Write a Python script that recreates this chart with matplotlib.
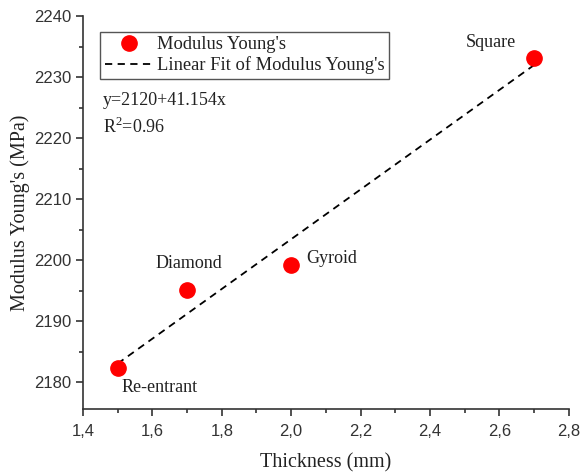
import matplotlib
matplotlib.use('Agg')
import matplotlib.pyplot as plt
import numpy as np
from matplotlib.ticker import MultipleLocator, FuncFormatter

# data
names = ['Re-entrant', 'Diamond', 'Gyroid', 'Square']
thickness = [1.5, 1.7, 2.0, 2.7]
modulus = [2182.3, 2195.1, 2199.2, 2233.1]
r_squared = 0.96

SERIF = 'Liberation Serif'
SANS = 'Liberation Sans'
TEXT = '#222222'

plt.rcParams['mathtext.fontset'] = 'custom'
plt.rcParams['mathtext.rm'] = SERIF

fig = plt.figure(figsize=(5.84, 4.73), dpi=100)
ax = fig.add_axes([0.142, 0.135, 0.832, 0.831])

ax.plot(thickness, modulus, 'o', color='#ff0000', markersize=11,
        label="Modulus Young's", zorder=3)
xfit = np.array([thickness[0], thickness[-1]])
slope, intercept = np.polyfit(thickness, modulus, 1)
ax.plot(xfit, intercept + slope * xfit, '--', color='k', linewidth=1.3,
        dashes=(4, 3), label="Linear Fit of Modulus Young's", zorder=2)

# point labels: offsets in points
offsets = {
    'Re-entrant': (3, -14, 'left'),
    'Diamond': (1.5, 19, 'center'),
    'Gyroid': (11, 5, 'left'),
    'Square': (-31, 11, 'center'),
}
for n, x, y in zip(names, thickness, modulus):
    dx, dy, ha = offsets[n]
    ax.annotate(n, (x, y), xytext=(dx, dy), textcoords='offset points',
                ha=ha, va='center', fontsize=13, family=SERIF, color=TEXT)

ax.text(0.041, 0.786, 'y=2120+41.154x', transform=ax.transAxes,
        fontsize=13, family=SERIF, va='center', color=TEXT)
ax.text(0.041, 0.718, r'R$^\mathrm{2}$=%.2f' % r_squared, transform=ax.transAxes,
        fontsize=13, family=SERIF, va='center', color=TEXT)

ax.set_xlim(1.4, 2.8)
ax.set_ylim(2175.6, 2240)
ax.xaxis.set_major_locator(MultipleLocator(0.2))
ax.xaxis.set_minor_locator(MultipleLocator(0.1))
ax.yaxis.set_major_locator(MultipleLocator(10))
ax.yaxis.set_minor_locator(MultipleLocator(5))
ax.xaxis.set_major_formatter(FuncFormatter(lambda v, p: ('%.1f' % v).replace('.', ',')))
ax.set_yticks(np.arange(2180, 2241, 10))

for s in ['top', 'right']:
    ax.spines[s].set_visible(False)
for s in ['left', 'bottom']:
    ax.spines[s].set_linewidth(1.2)
    ax.spines[s].set_color('#333333')
ax.tick_params(which='major', direction='out', length=5, width=1.2,
               labelsize=12, colors='#333333')
ax.tick_params(which='minor', direction='out', length=3, width=1.2, colors='#333333')
ax.tick_params(axis='x', which='major', pad=6)
for lab in ax.get_xticklabels() + ax.get_yticklabels():
    lab.set_family(SANS)

ax.set_xlabel('Thickness (mm)', family=SERIF, fontsize=14.5, labelpad=10, color=TEXT)
ax.set_ylabel("Modulus Young's (MPa)", family=SERIF, fontsize=14.5, labelpad=3, color=TEXT)

leg = ax.legend(loc='upper left', bbox_to_anchor=(0.035, 0.96), fancybox=False,
                edgecolor='#555555', framealpha=1, borderpad=0.25, handletextpad=0.25,
                labelspacing=0.15, handlelength=2.6, borderaxespad=0,
                prop={'family': SERIF, 'size': 13.3})
leg.get_frame().set_linewidth(1.0)
for t in leg.get_texts():
    t.set_color(TEXT)

fig.savefig('out.png', dpi=100)
